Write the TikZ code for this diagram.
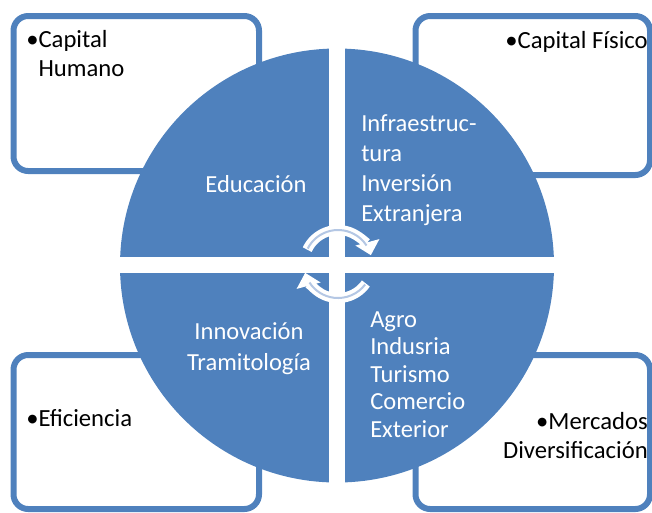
\documentclass[tikz,border=0pt]{standalone}
\usepackage{fontspec}
\setmainfont{Carlito}
\usetikzlibrary{arrows.meta}
\definecolor{qblue}{HTML}{4F81BD}
\definecolor{qpale}{HTML}{B4C7E4}

\begin{document}
\begin{tikzpicture}[x=0.75pt,y=-0.75pt,
  card/.style={draw=qblue, line width=4.5pt, rounded corners=11pt},
  cardtext/.style={font=\fontsize{18.5}{21.5}\selectfont, text=black, inner sep=0pt},
  quadtext/.style={font=\fontsize{18.4}{22.5}\selectfont, text=white, inner sep=0pt},
  cyc/.style={white, line width=7.5pt, -{Triangle[width=18pt,length=10pt]}},
  cycline/.style={qpale, line width=1.5pt}]
  \useasboundingbox (0,0) rectangle (652,512);
  % Coordinates
  \coordinate (c) at (338,264);
  % Corner cards
  \draw[card] (13.5,16) rectangle (259,171);
  \draw[card] (415.5,16) rectangle (650,175);
  \draw[card] (13.5,355) rectangle (259,509);
  \draw[card] (415.5,355) rectangle (650,509);
  % Quadrants of the circle
  \begin{scope}
    \clip (337,265.5) circle (217);
    \fill[qblue] (100,40) rectangle (329,257);
    \fill[qblue] (345,40) rectangle (570,257);
    \fill[qblue] (100,273) rectangle (329,490);
    \fill[qblue] (345,273) rectangle (570,490);
  \end{scope}
  % Cycle arrows
  \draw[cyc] ([shift={(-155:34)}]c) arc (-155:-15:34);
  \draw[cyc] ([shift={(35:34)}]c) arc (35:165:34);
  \draw[cycline] ([shift={(-153:34)}]c) arc (-153:-33:34);
  \draw[cycline] ([shift={(37:34)}]c) arc (37:147:34);

  % Quadrant labels
  \node[quadtext, anchor=base] (edu) at (256,192) {Educación};
  \node[quadtext, anchor=base west, align=left] (infra) at (361,221)
    {Infraestruc-\\tura\\Inversión\\Extranjera};
  \node[quadtext, font=\fontsize{18.4}{23.25}\selectfont, anchor=base, align=center] (inno) at (249,370)
    {Innovación\\Tramitología};
  \node[quadtext, font=\fontsize{18.4}{20.6}\selectfont, anchor=base west, align=left] (agro) at (370,437)
    {Agro\\Indusria\\Turismo\\Comercio\\Exterior};

  % Card labels
  \node[cardtext, anchor=base west, align=left] (capH) at (26,76) {•Capital\\\phantom{•}Humano};
  \node[cardtext, anchor=base east] (capF) at (648,48) {•Capital Físico};
  \node[cardtext, anchor=base west] (efi) at (26,426) {•Eficiencia};
  \node[cardtext, anchor=base east, align=right] (merc) at (648,458) {•Mercados\\Diversificación};
\end{tikzpicture}
\end{document}
